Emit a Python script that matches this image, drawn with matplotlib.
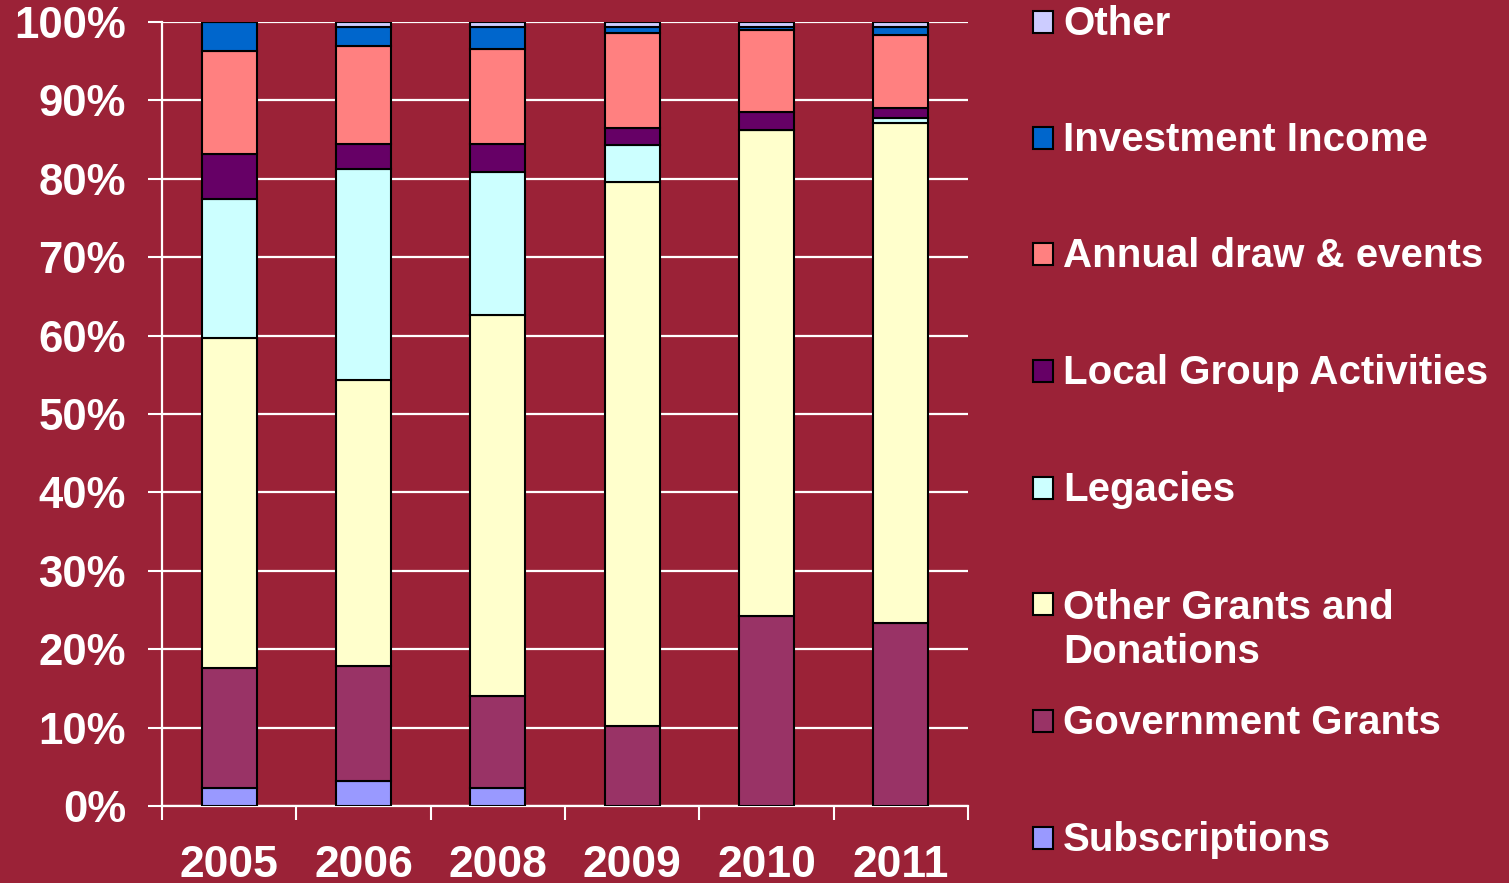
import matplotlib
matplotlib.use("Agg")
import matplotlib.pyplot as plt
import numpy as np
from matplotlib.patches import Rectangle

years = ["2005", "2006", "2008", "2009", "2010", "2011"]
series_names = ["Subscriptions", "Government Grants", "Other Grants and\nDonations",
                "Legacies", "Local Group Activities", "Annual draw & events",
                "Investment Income", "Other"]
subscriptions = [2.3, 3.2, 2.3, 0.0, 0.0, 0.0]
government_grants = [15.3, 14.7, 11.7, 10.2, 24.2, 23.3]
other_grants = [42.1, 36.4, 48.6, 69.4, 62.0, 63.8]
legacies = [17.7, 27.0, 18.3, 4.7, 0.0, 0.6]
local_group = [5.8, 3.1, 3.5, 2.2, 2.3, 1.3]
annual_draw = [13.1, 12.5, 12.1, 12.1, 10.5, 9.3]
investment = [3.7, 2.5, 2.9, 0.7, 0.4, 1.1]
other = [0.0, 0.6, 0.6, 0.7, 0.6, 0.6]

colors = ["#9999FF", "#993366", "#FFFFCC", "#CCFFFF", "#660066", "#FF8080", "#0066CC", "#CCCCFF"]
bg = "#9B2237"

data = np.array([subscriptions, government_grants, other_grants, legacies,
                 local_group, annual_draw, investment, other])
pct = data / data.sum(axis=0) * 100

plt.rcParams['font.family'] = ['Liberation Sans', 'DejaVu Sans']
plt.rcParams['font.weight'] = 'bold'

W, H = 1509, 883
fig = plt.figure(figsize=(W / 100, H / 100), dpi=100, facecolor=bg)
ax = fig.add_axes([162 / W, 1 - 806 / H, (968 - 162) / W, (806 - 22) / H])
ax.set_facecolor(bg)

x = np.arange(len(years))
bottom = np.zeros(len(years))
for i in range(len(series_names)):
    ax.bar(x, pct[i], bottom=bottom, width=0.41, color=colors[i],
           edgecolor="black", linewidth=1.5, zorder=3)
    bottom += pct[i]

ax.set_xlim(-0.5, len(years) - 0.5)
ax.set_ylim(0, 100)
ax.set_yticks(np.arange(0, 101, 10))
ax.set_yticklabels([f"{v}%" for v in range(0, 101, 10)], fontsize=31.5,
                   fontweight="bold", color="white")
ax.yaxis.grid(True, color="white", linewidth=1.6, zorder=1)
ax.set_axisbelow(True)

ax.set_xticks(np.arange(-0.5, len(years), 1.0))
ax.set_xticklabels([])
ax.set_xticks(x, minor=True)
ax.set_xticklabels(years, minor=True, fontsize=32, fontweight="bold", color="white")
ax.tick_params(axis="x", which="major", direction="out", length=10, width=1.5, color="white")
ax.tick_params(axis="x", which="minor", length=0, pad=28)
ax.tick_params(axis="y", direction="out", length=10, width=1.5, color="white", pad=16)

for s in ["top", "right"]:
    ax.spines[s].set_visible(False)
for s in ["left", "bottom"]:
    ax.spines[s].set_color("white")
    ax.spines[s].set_linewidth(1.6)

# legend (manual, reversed order as in original)
leg_y = [22, 138, 254, 371, 488, 604, 721, 838]
legend_order = list(range(len(series_names)))[::-1]
for k, i in enumerate(legend_order):
    yc = leg_y[k]
    fig.patches.append(Rectangle((1033 / W, 1 - (yc + 11) / H), 20 / W, 22 / H,
                                 transform=fig.transFigure, facecolor=colors[i],
                                 edgecolor="black", linewidth=1.5))
    ty = yc + 26 if "\n" in series_names[i] else yc + 2
    fig.text(1063 / W, 1 - ty / H, series_names[i], fontsize=29, fontweight="bold",
             color="white", va="center", ha="left", linespacing=1.2)

fig.savefig("out.png", dpi=100, facecolor=bg)
